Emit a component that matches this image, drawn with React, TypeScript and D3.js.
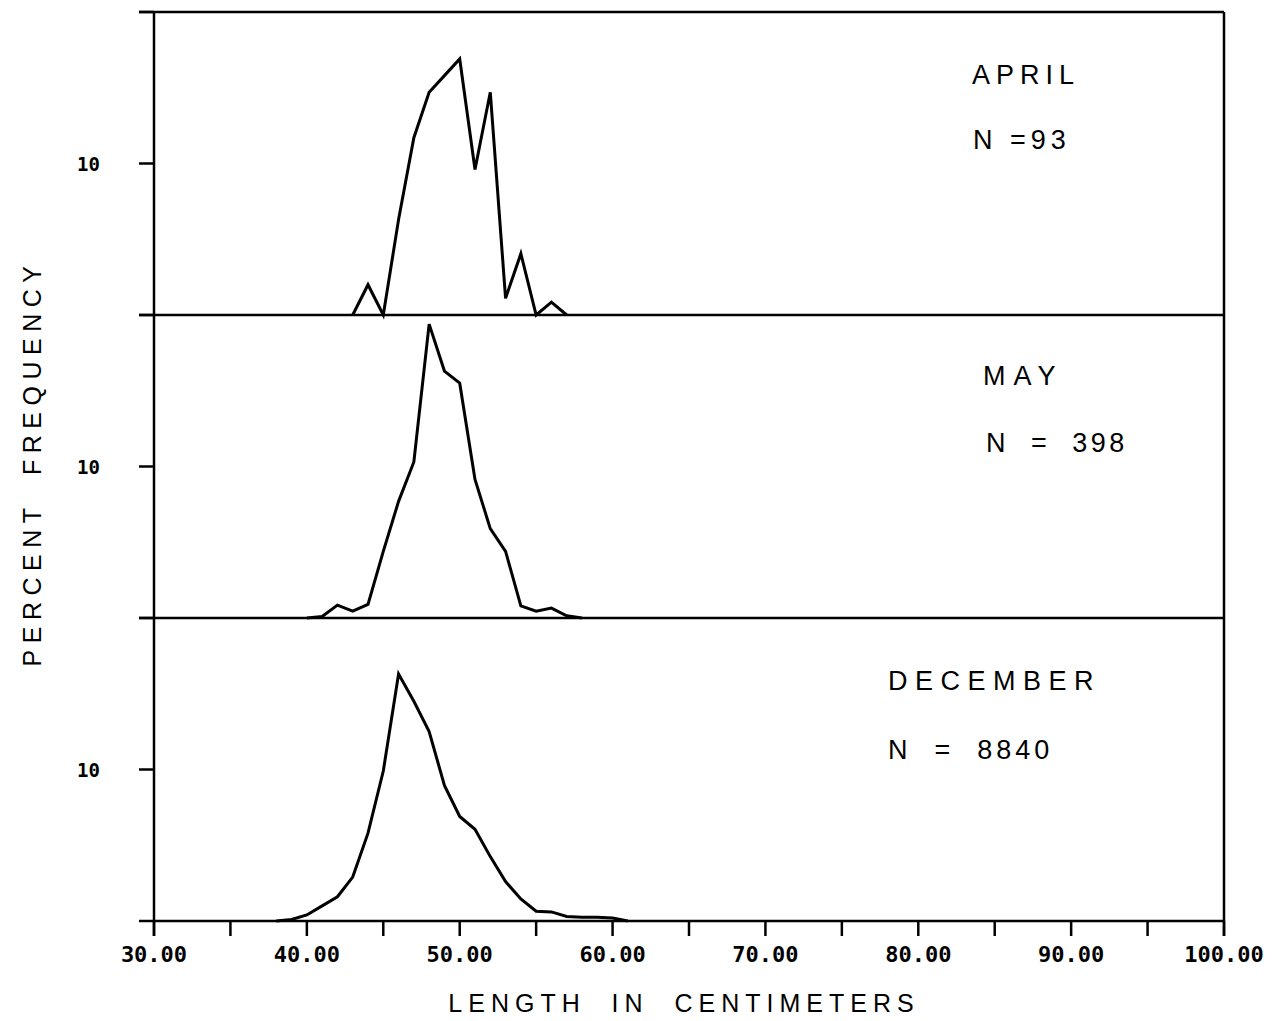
import React from 'react';
import * as d3 from 'd3';

// length classes (cm) and percent frequency per month
const aprilLengths = [43, 44, 45, 46, 47, 48, 49, 50, 51, 52, 53, 54, 55, 56, 57];
const aprilPct = [0, 2.0, 0, 6.3, 11.7, 14.7, 15.8, 16.9, 9.6, 14.7, 1.1, 4.05, 0, 0.85, 0];

const mayLengths = [40, 41, 42, 43, 44, 45, 46, 47, 48, 49, 50, 51, 52, 53, 54, 55, 56, 57, 58];
const mayPct = [0, 0.1, 0.85, 0.45, 0.9, 4.4, 7.7, 10.3, 19.4, 16.3, 15.5, 9.15, 5.9, 4.4, 0.8, 0.45, 0.65, 0.15, 0];

const decLengths = [38, 39, 40, 41, 42, 43, 44, 45, 46, 47, 48, 49, 50, 51, 52, 53, 54, 55, 56, 57, 58, 59, 60, 61];
const decPct = [0, 0.1, 0.4, 1.0, 1.6, 2.9, 5.8, 9.9, 16.3, 14.5, 12.5, 8.95, 6.9, 6.05, 4.25, 2.6, 1.45, 0.65, 0.6, 0.3, 0.25, 0.25, 0.2, 0];

const monthNames = ['APRIL', 'MAY', 'DECEMBER'];
const sampleSizes = ['N =93', 'N  =  398', 'N  =  8840'];

const xTicks = d3.range(30, 100.1, 5);
const xLabels = d3.range(30, 100.1, 10);
const yTicks = [0, 10, 20];

const W = 1287;
const H = 1021;
const left = 154;
const right = 1224;
const top = 12;
const bottom = 921;

const App = () => {
  const x = d3.scaleLinear().domain([30, 100]).range([left, right]);
  const panelH = (bottom - top) / 3;

  const panels = [
    { lengths: aprilLengths, pct: aprilPct },
    { lengths: mayLengths, pct: mayPct },
    { lengths: decLengths, pct: decPct },
  ];

  // label placement in each panel (relative to panel top)
  const labelPos = [
    { mx: 972, my: 72, ms: 6, nx: 973, ny: 137, ns: 5 },
    { mx: 983, my: 70, ms: 8, nx: 986, ny: 137, ns: 3.5 },
    { mx: 888, my: 72, ms: 7.5, nx: 888, ny: 141, ns: 4 },
  ];

  return (
    <svg width={W} height={H} style={{ position: 'absolute', left: 0, top: 0, background: '#fff' }}>
      {panels.map((p, i) => {
        const y0 = top + panelH * (i + 1);
        const y = d3.scaleLinear().domain([0, 20]).range([y0, y0 - panelH]);
        const line = d3.line<number>()
          .x((d, j) => x(p.lengths[j]))
          .y(d => y(d));
        const lp = labelPos[i];
        const pt = top + panelH * i;
        return (
          <g key={i}>
            <line x1={left} x2={right} y1={y0} y2={y0} stroke="#000" strokeWidth={2.5} />
            {yTicks.map(t => (
              <line key={t} x1={left - 15} x2={left} y1={y(t)} y2={y(t)} stroke="#000" strokeWidth={2.5} />
            ))}
            <text x={100} y={y(10)} textAnchor="end" dominantBaseline="central"
              style={{ fontFamily: 'DejaVu Sans Mono', fontWeight: 'bold', fontSize: 19 }}>10</text>
            <path d={line(p.pct) || ''} fill="none" stroke="#000" strokeWidth={3} strokeLinejoin="miter" />
            <text x={lp.mx} y={pt + lp.my} style={{ fontFamily: 'Liberation Sans', fontSize: 27, letterSpacing: lp.ms }}>{monthNames[i]}</text>
            <text x={lp.nx} y={pt + lp.ny} xmlSpace="preserve" style={{ fontFamily: 'Liberation Sans', fontSize: 27, letterSpacing: lp.ns, whiteSpace: 'pre' }}>{sampleSizes[i]}</text>
          </g>
        );
      })}

      {/* frame */}
      <line x1={left - 15} x2={right} y1={top} y2={top} stroke="#000" strokeWidth={2.5} />
      <line x1={left} x2={left} y1={top} y2={bottom + 15} stroke="#000" strokeWidth={2.5} />
      <line x1={right} x2={right} y1={top} y2={bottom + 15} stroke="#000" strokeWidth={2.5} />

      {/* x axis ticks */}
      {xTicks.map(t => (
        <line key={t} x1={x(t)} x2={x(t)} y1={bottom} y2={bottom + 15} stroke="#000" strokeWidth={2.5} />
      ))}
      {xLabels.map(t => (
        <text key={t} x={x(t)} y={954} textAnchor="middle" dominantBaseline="central"
          style={{ fontFamily: 'DejaVu Sans Mono', fontWeight: 'bold', fontSize: 22 }}>{t.toFixed(2)}</text>
      ))}

      <text x={684} y={1012} textAnchor="middle" xmlSpace="preserve"
        style={{ fontFamily: 'Liberation Sans', fontSize: 25, letterSpacing: 6, whiteSpace: 'pre' }}>LENGTH  IN  CENTIMETERS</text>
      <text transform="translate(41,463) rotate(-90)" textAnchor="middle" xmlSpace="preserve"
        style={{ fontFamily: 'Liberation Sans', fontSize: 25, letterSpacing: 6.5, whiteSpace: 'pre' }}>PERCENT  FREQUENCY</text>
    </svg>
  );
};

export default App;
